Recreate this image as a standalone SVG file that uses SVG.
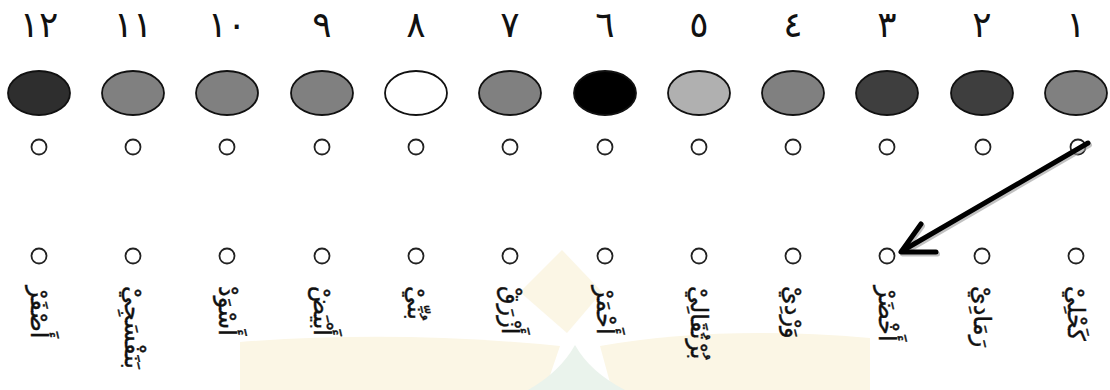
<svg xmlns="http://www.w3.org/2000/svg" width="1110" height="390" viewBox="0 0 1110 390">
<defs>
<style>
.num{font-family:"DejaVu Sans","Noto Sans",sans-serif;font-size:36px;fill:#111;text-anchor:middle}
.word{font-family:"DejaVu Sans","Noto Sans",sans-serif;font-size:24px;fill:#111;stroke:#111;stroke-width:0.4;dominant-baseline:central}
.ell{stroke:#111;stroke-width:1.8}
.dot{fill:#fff;stroke:#222;stroke-width:1.8}
.wm1{fill:#fbf6e5}
.wm2{fill:#eaf3ec}
</style>
</defs>
<rect width="1110" height="390" fill="#fff"/>
<g id="watermark">
<path class="wm1" d="M240,342 Q400,330 560,346 L545,390 L240,390 Z"/>
<path class="wm1" d="M600,346 Q720,325 870,338 L870,390 L612,390 Z"/>
<path class="wm2" d="M575,345 Q560,372 528,390 L625,390 Q590,372 575,345 Z"/>
<path class="wm1" d="M562,250 L602,292 L567,333 L520,292 Z"/>
</g>
<g id="col1"><text class="num" x="1076" y="37">١</text><ellipse class="ell" cx="1076" cy="93" rx="31" ry="22" fill="#808080"/><circle class="dot" cx="1078" cy="147" r="7.5"/><circle class="dot" cx="1076" cy="256" r="7.5"/><text class="word" transform="translate(1076,286) rotate(90)">كَحْلِيْ</text></g>
<g id="col2"><text class="num" x="982" y="37">٢</text><ellipse class="ell" cx="982" cy="93" rx="31" ry="22" fill="#3e3e3e"/><circle class="dot" cx="983" cy="147" r="7.5"/><circle class="dot" cx="982" cy="256" r="7.5"/><text class="word" transform="translate(982,286) rotate(90)">رَمَادِيْ</text></g>
<g id="col3"><text class="num" x="887" y="37">٣</text><ellipse class="ell" cx="887" cy="93" rx="31" ry="22" fill="#3e3e3e"/><circle class="dot" cx="887" cy="147" r="7.5"/><circle class="dot" cx="887" cy="256" r="7.5"/><text class="word" transform="translate(887,286) rotate(90)">أَخْضَرْ</text></g>
<g id="col4"><text class="num" x="793" y="37">٤</text><ellipse class="ell" cx="793" cy="93" rx="31" ry="22" fill="#808080"/><circle class="dot" cx="793" cy="147" r="7.5"/><circle class="dot" cx="793" cy="256" r="7.5"/><text class="word" transform="translate(793,286) rotate(90)">وَرْدِيْ</text></g>
<g id="col5"><text class="num" x="699" y="37">٥</text><ellipse class="ell" cx="699" cy="93" rx="31" ry="22" fill="#b0b0b0"/><circle class="dot" cx="699" cy="147" r="7.5"/><circle class="dot" cx="699" cy="256" r="7.5"/><text class="word" transform="translate(699,286) rotate(90)">بُرْتُقَالِيْ</text></g>
<g id="col6"><text class="num" x="605" y="37">٦</text><ellipse class="ell" cx="605" cy="93" rx="31" ry="22" fill="#000"/><circle class="dot" cx="605" cy="147" r="7.5"/><circle class="dot" cx="605" cy="256" r="7.5"/><text class="word" transform="translate(605,286) rotate(90)">أَحْمَرْ</text></g>
<g id="col7"><text class="num" x="510" y="37">٧</text><ellipse class="ell" cx="510" cy="93" rx="31" ry="22" fill="#808080"/><circle class="dot" cx="510" cy="147" r="7.5"/><circle class="dot" cx="510" cy="256" r="7.5"/><text class="word" transform="translate(510,286) rotate(90)">أَزْرَقْ</text></g>
<g id="col8"><text class="num" x="416" y="37">٨</text><ellipse class="ell" cx="416" cy="93" rx="31" ry="22" fill="#fff"/><circle class="dot" cx="416" cy="147" r="7.5"/><circle class="dot" cx="416" cy="256" r="7.5"/><text class="word" transform="translate(416,286) rotate(90)">بُنِّيْ</text></g>
<g id="col9"><text class="num" x="322" y="37">٩</text><ellipse class="ell" cx="322" cy="93" rx="31" ry="22" fill="#808080"/><circle class="dot" cx="322" cy="147" r="7.5"/><circle class="dot" cx="322" cy="256" r="7.5"/><text class="word" transform="translate(322,286) rotate(90)">أَبْيَضْ</text></g>
<g id="col10"><text class="num" x="227" y="37">١٠</text><ellipse class="ell" cx="227" cy="93" rx="31" ry="22" fill="#808080"/><circle class="dot" cx="227" cy="147" r="7.5"/><circle class="dot" cx="227" cy="256" r="7.5"/><text class="word" transform="translate(227,286) rotate(90)">أَسْوَدْ</text></g>
<g id="col11"><text class="num" x="133" y="37">١١</text><ellipse class="ell" cx="133" cy="93" rx="31" ry="22" fill="#808080"/><circle class="dot" cx="133" cy="147" r="7.5"/><circle class="dot" cx="133" cy="256" r="7.5"/><text class="word" transform="translate(133,286) rotate(90)">بَنَفْسَجِيْ</text></g>
<g id="col12"><text class="num" x="39" y="37">١٢</text><ellipse class="ell" cx="39" cy="93" rx="31" ry="22" fill="#2e2e2e"/><circle class="dot" cx="39" cy="147" r="7.5"/><circle class="dot" cx="39" cy="256" r="7.5"/><text class="word" transform="translate(39,286) rotate(90)">أَصْفَرْ</text></g>
<g id="connectors" fill="none" stroke-linecap="round" stroke-linejoin="round">
<g stroke="#999" stroke-width="5" transform="translate(1.5,2)" opacity="0.6">
<line x1="1088" y1="143" x2="902" y2="251"/>
<polyline points="921,224 901,252 936,252"/>
</g>
<g stroke="#000" stroke-width="5">
<line x1="1088" y1="143" x2="902" y2="251"/>
<polyline points="921,224 901,252 936,252"/>
</g>
</g>
</svg>
